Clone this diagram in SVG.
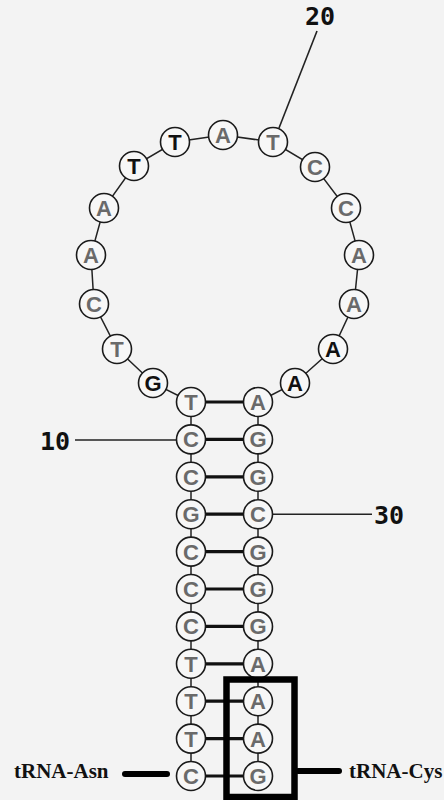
<svg xmlns="http://www.w3.org/2000/svg" width="444" height="800" viewBox="0 0 444 800">
<style>
.bb{stroke:#222;stroke-width:1.5;fill:none}
.bp{stroke:#111;stroke-width:3.2;fill:none}
.ld{stroke:#222;stroke-width:1.6;fill:none}
.nc{fill:#f7f7f7;stroke:#1a1a1a;stroke-width:1.6}
.nt{font-family:"Liberation Sans",Arial,sans-serif;font-weight:bold;font-size:22px;text-anchor:middle;fill:#6a6a6a}
.dk{fill:#111}
.num{font-family:"DejaVu Sans Mono",monospace;font-weight:bold;font-size:25px;text-anchor:middle;fill:#111}
.lab{font-family:"Liberation Serif","Times New Roman",serif;font-weight:bold;font-size:21px;fill:#111}
.thick{stroke:#000;stroke-width:6;stroke-linecap:round;fill:none}
</style>
<rect width="444" height="800" fill="#f3f3f3"/>
<g id="connectors">
<polyline class="bb" points="191,402 153,383 117,349 94,304 91,255 104,208 134,166 175,142 223,135 273,142 315,167 346,208 359,255 354,304 333,349 295,383 258,402"/>
<line class="bb" x1="191" y1="402" x2="191" y2="776"/>
<line class="bb" x1="258" y1="402" x2="258" y2="776"/>
<line class="bp" x1="191" y1="402" x2="258" y2="402"/>
<line class="bp" x1="191" y1="439.4" x2="258" y2="439.4"/>
<line class="bp" x1="191" y1="476.8" x2="258" y2="476.8"/>
<line class="bp" x1="191" y1="514.2" x2="258" y2="514.2"/>
<line class="bp" x1="191" y1="551.6" x2="258" y2="551.6"/>
<line class="bp" x1="191" y1="589" x2="258" y2="589"/>
<line class="bp" x1="191" y1="626.4" x2="258" y2="626.4"/>
<line class="bp" x1="191" y1="663.8" x2="258" y2="663.8"/>
<line class="bp" x1="191" y1="701.2" x2="258" y2="701.2"/>
<line class="bp" x1="191" y1="738.6" x2="258" y2="738.6"/>
<line class="bp" x1="191" y1="776" x2="258" y2="776"/>
<line class="ld" x1="75" y1="440" x2="177" y2="440"/>
<line class="ld" x1="272" y1="514.2" x2="372" y2="514.2"/>
<line class="ld" x1="279" y1="128" x2="317" y2="31"/>
<line class="thick" x1="125" y1="774" x2="167" y2="774"/>
<line class="thick" x1="298" y1="771" x2="339" y2="771"/>
</g>
<g id="n1"><circle class="nc" cx="191" cy="776" r="14.5"/><text class="nt" x="191" y="784">C</text></g>
<g id="n2"><circle class="nc" cx="191" cy="738.6" r="14.5"/><text class="nt" x="191" y="746.6">T</text></g>
<g id="n3"><circle class="nc" cx="191" cy="701.2" r="14.5"/><text class="nt" x="191" y="709.2">T</text></g>
<g id="n4"><circle class="nc" cx="191" cy="663.8" r="14.5"/><text class="nt" x="191" y="671.8">T</text></g>
<g id="n5"><circle class="nc" cx="191" cy="626.4" r="14.5"/><text class="nt" x="191" y="634.4">C</text></g>
<g id="n6"><circle class="nc" cx="191" cy="589" r="14.5"/><text class="nt" x="191" y="597">C</text></g>
<g id="n7"><circle class="nc" cx="191" cy="551.6" r="14.5"/><text class="nt" x="191" y="559.6">C</text></g>
<g id="n8"><circle class="nc" cx="191" cy="514.2" r="14.5"/><text class="nt" x="191" y="522.2">G</text></g>
<g id="n9"><circle class="nc" cx="191" cy="476.8" r="14.5"/><text class="nt" x="191" y="484.8">C</text></g>
<g id="n10"><circle class="nc" cx="191" cy="439.4" r="14.5"/><text class="nt" x="191" y="447.4">C</text></g>
<g id="n11"><circle class="nc" cx="191" cy="402" r="14.5"/><text class="nt" x="191" y="410">T</text></g>
<g id="n12"><circle class="nc" cx="153" cy="383" r="14.5"/><text class="nt dk" x="153" y="391">G</text></g>
<g id="n13"><circle class="nc" cx="117" cy="349" r="14.5"/><text class="nt" x="117" y="357">T</text></g>
<g id="n14"><circle class="nc" cx="94" cy="304" r="14.5"/><text class="nt" x="94" y="312">C</text></g>
<g id="n15"><circle class="nc" cx="91" cy="255" r="14.5"/><text class="nt" x="91" y="263">A</text></g>
<g id="n16"><circle class="nc" cx="104" cy="208" r="14.5"/><text class="nt" x="104" y="216">A</text></g>
<g id="n17"><circle class="nc" cx="134" cy="166" r="14.5"/><text class="nt dk" x="134" y="174">T</text></g>
<g id="n18"><circle class="nc" cx="175" cy="142" r="14.5"/><text class="nt dk" x="175" y="150">T</text></g>
<g id="n19"><circle class="nc" cx="223" cy="135" r="14.5"/><text class="nt" x="223" y="143">A</text></g>
<g id="n20"><circle class="nc" cx="273" cy="142" r="14.5"/><text class="nt" x="273" y="150">T</text></g>
<g id="n21"><circle class="nc" cx="315" cy="167" r="14.5"/><text class="nt" x="315" y="175">C</text></g>
<g id="n22"><circle class="nc" cx="346" cy="208" r="14.5"/><text class="nt" x="346" y="216">C</text></g>
<g id="n23"><circle class="nc" cx="359" cy="255" r="14.5"/><text class="nt" x="359" y="263">A</text></g>
<g id="n24"><circle class="nc" cx="354" cy="304" r="14.5"/><text class="nt" x="354" y="312">A</text></g>
<g id="n25"><circle class="nc" cx="333" cy="349" r="14.5"/><text class="nt dk" x="333" y="357">A</text></g>
<g id="n26"><circle class="nc" cx="295" cy="383" r="14.5"/><text class="nt dk" x="295" y="391">A</text></g>
<g id="n27"><circle class="nc" cx="258" cy="402" r="14.5"/><text class="nt" x="258" y="410">A</text></g>
<g id="n28"><circle class="nc" cx="258" cy="439.4" r="14.5"/><text class="nt" x="258" y="447.4">G</text></g>
<g id="n29"><circle class="nc" cx="258" cy="476.8" r="14.5"/><text class="nt" x="258" y="484.8">G</text></g>
<g id="n30"><circle class="nc" cx="258" cy="514.2" r="14.5"/><text class="nt" x="258" y="522.2">C</text></g>
<g id="n31"><circle class="nc" cx="258" cy="551.6" r="14.5"/><text class="nt" x="258" y="559.6">G</text></g>
<g id="n32"><circle class="nc" cx="258" cy="589" r="14.5"/><text class="nt" x="258" y="597">G</text></g>
<g id="n33"><circle class="nc" cx="258" cy="626.4" r="14.5"/><text class="nt" x="258" y="634.4">G</text></g>
<g id="n34"><circle class="nc" cx="258" cy="663.8" r="14.5"/><text class="nt" x="258" y="671.8">A</text></g>
<g id="n35"><circle class="nc" cx="258" cy="701.2" r="14.5"/><text class="nt" x="258" y="709.2">A</text></g>
<g id="n36"><circle class="nc" cx="258" cy="738.6" r="14.5"/><text class="nt" x="258" y="746.6">A</text></g>
<g id="n37"><circle class="nc" cx="258" cy="776" r="14.5"/><text class="nt" x="258" y="784">G</text></g>
<g id="box"><rect x="226.5" y="679.5" width="68" height="117.5" fill="none" stroke="#000" stroke-width="6.5"/></g>
<g id="labels">
<text class="num" x="55" y="450">10</text>
<text class="num" x="389" y="524">30</text>
<text class="num" x="320" y="25">20</text>
<text class="lab" x="14" y="778">tRNA-Asn</text>
<text class="lab" x="349" y="778">tRNA-Cys</text>
</g>
</svg>
